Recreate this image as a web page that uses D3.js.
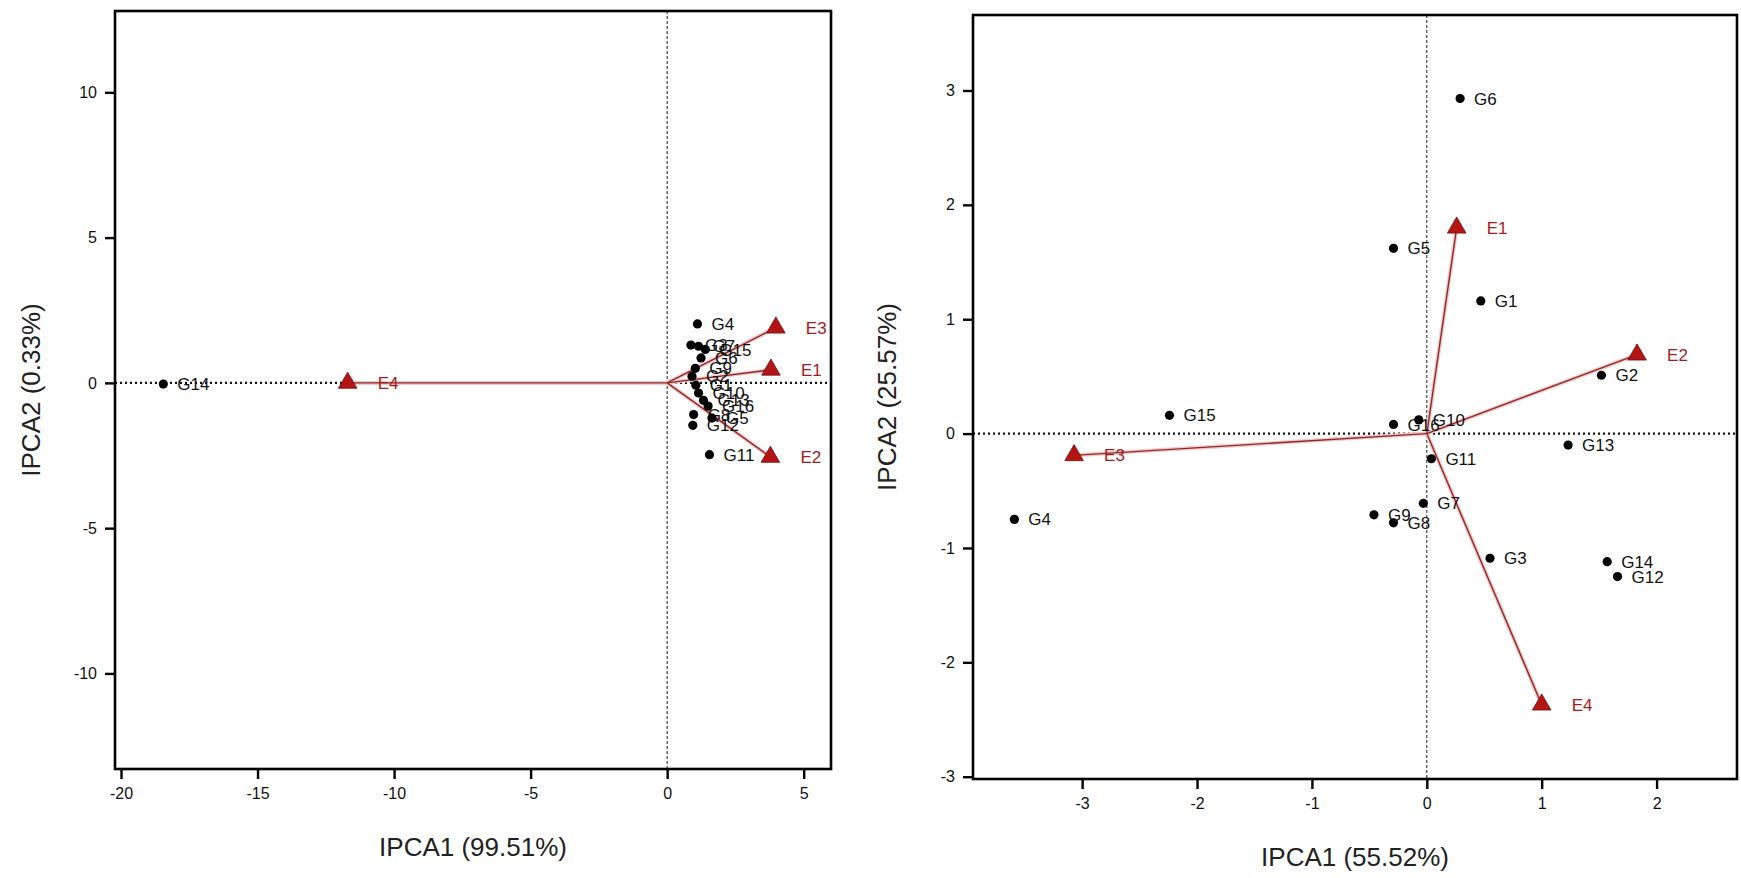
<!DOCTYPE html>
<html>
<head>
<meta charset="utf-8">
<script src="https://cdn.jsdelivr.net/npm/d3@7"></script>
<style>
  body { margin: 0; background: #fff; }
  svg { display: block; font-family: "Liberation Sans", Arial, sans-serif; }
</style>
</head>
<body>
<svg width="1741" height="878"></svg>
<script>
// ---- left biplot (IPCA1 99.51% / IPCA2 0.33%) ----
var leftGenotypes = [
  {name: "G1",  x: 1.05, y: -0.08},
  {name: "G2",  x: 0.91, y: 0.23},
  {name: "G3",  x: 0.87, y: 1.30},
  {name: "G4",  x: 1.11, y: 2.03},
  {name: "G5",  x: 1.64, y: -1.21},
  {name: "G6",  x: 1.24, y: 0.86},
  {name: "G7",  x: 1.15, y: 1.26},
  {name: "G8",  x: 0.97, y: -1.09},
  {name: "G9",  x: 1.03, y: 0.50},
  {name: "G10", x: 1.15, y: -0.35},
  {name: "G11", x: 1.55, y: -2.47},
  {name: "G12", x: 0.94, y: -1.46},
  {name: "G13", x: 1.33, y: -0.60},
  {name: "G14", x: -18.45, y: -0.04},
  {name: "G15", x: 1.40, y: 1.15},
  {name: "G16", x: 1.50, y: -0.80}
];
var leftEnvironments = [
  {name: "E1", x: 3.80, y: 0.45},
  {name: "E2", x: 3.78, y: -2.55},
  {name: "E3", x: 3.98, y: 1.90},
  {name: "E4", x: -11.70, y: 0.0}
];
var leftXTicks = [-20, -15, -10, -5, 0, 5];
var leftYTicks = [-10, -5, 0, 5, 10];

// ---- right biplot (IPCA1 55.52% / IPCA2 25.57%) ----
var rightGenotypes = [
  {name: "G1",  x: 0.47, y: 1.16},
  {name: "G2",  x: 1.52, y: 0.51},
  {name: "G3",  x: 0.55, y: -1.09},
  {name: "G4",  x: -3.59, y: -0.75},
  {name: "G5",  x: -0.29, y: 1.62},
  {name: "G6",  x: 0.29, y: 2.93},
  {name: "G7",  x: -0.03, y: -0.61},
  {name: "G8",  x: -0.29, y: -0.78},
  {name: "G9",  x: -0.46, y: -0.71},
  {name: "G10", x: -0.07, y: 0.12},
  {name: "G11", x: 0.04, y: -0.22},
  {name: "G12", x: 1.66, y: -1.25},
  {name: "G13", x: 1.23, y: -0.10},
  {name: "G14", x: 1.57, y: -1.12},
  {name: "G15", x: -2.24, y: 0.16},
  {name: "G16", x: -0.29, y: 0.08}
];
var rightEnvironments = [
  {name: "E1", x: 0.26, y: 1.80},
  {name: "E2", x: 1.83, y: 0.69},
  {name: "E3", x: -3.07, y: -0.19},
  {name: "E4", x: 1.00, y: -2.37}
];
var rightXTicks = [-3, -2, -1, 0, 1, 2];
var rightYTicks = [-3, -2, -1, 0, 1, 2, 3];

var svg = d3.select("svg");
var envColor = "#a51c1c";

function biplot(cfg) {
  var x = d3.scaleLinear().domain(cfg.xDomain).range([cfg.left, cfg.right]);
  var y = d3.scaleLinear().domain(cfg.yDomain).range([cfg.bottom, cfg.top]);
  var g = svg.append("g");

  // zero reference lines
  g.append("line")
    .attr("x1", x(0)).attr("x2", x(0))
    .attr("y1", cfg.top).attr("y2", cfg.bottom)
    .attr("stroke", "#222").attr("stroke-width", 1)
    .attr("stroke-dasharray", "3,2");
  g.append("line")
    .attr("x1", cfg.left).attr("x2", cfg.right)
    .attr("y1", y(0)).attr("y2", y(0))
    .attr("stroke", "#111").attr("stroke-width", 2.2)
    .attr("stroke-dasharray", "2,3");

  // environment vectors (pale halo + dark line)
  g.selectAll("line.vec")
    .data(cfg.envs)
    .enter().append("line")
    .attr("class", "vec")
    .attr("x1", x(0)).attr("y1", y(0))
    .attr("x2", function(d) { return x(d.x); })
    .attr("y2", function(d) { return y(d.y); })
    .attr("stroke", "#f4c8c8").attr("stroke-width", 4);
  g.selectAll("line.vec2")
    .data(cfg.envs)
    .enter().append("line")
    .attr("class", "vec2")
    .attr("x1", x(0)).attr("y1", y(0))
    .attr("x2", function(d) { return x(d.x); })
    .attr("y2", function(d) { return y(d.y); })
    .attr("stroke", "#8c2a2a").attr("stroke-width", 1.4);

  // genotype points
  g.selectAll("circle")
    .data(cfg.genos)
    .enter().append("circle")
    .attr("cx", function(d) { return x(d.x); })
    .attr("cy", function(d) { return y(d.y); })
    .attr("r", 4.6)
    .attr("fill", "#000");

  g.selectAll("text.geno")
    .data(cfg.genos)
    .enter().append("text")
    .attr("class", "geno")
    .attr("x", function(d) { return x(d.x) + 14; })
    .attr("y", function(d) { return y(d.y); })
    .attr("dy", "0.36em")
    .attr("font-size", 17)
    .attr("fill", "#111")
    .text(function(d) { return d.name; });

  // environment markers
  var tri = d3.symbol().type(d3.symbolTriangle).size(150);
  g.selectAll("path.env")
    .data(cfg.envs)
    .enter().append("path")
    .attr("class", "env")
    .attr("d", tri)
    .attr("transform", function(d) { return "translate(" + x(d.x) + "," + y(d.y) + ")"; })
    .attr("fill", "#b31414")
    .attr("stroke", "#7a0c0c").attr("stroke-width", 0.8);

  g.selectAll("text.env")
    .data(cfg.envs)
    .enter().append("text")
    .attr("class", "env")
    .attr("x", function(d) { return x(d.x) + 30; })
    .attr("y", function(d) { return y(d.y); })
    .attr("dy", "0.36em")
    .attr("font-size", 17)
    .attr("fill", envColor)
    .text(function(d) { return d.name; });

  // axes (plain hyphen minus like the original)
  var fmt = function(d) { return String(d); };
  var xAxis = d3.axisBottom(x).tickValues(cfg.xTicks).tickSize(10).tickPadding(9).tickFormat(fmt);
  var yAxis = d3.axisLeft(y).tickValues(cfg.yTicks).tickSize(10).tickPadding(8).tickFormat(fmt);

  var xa = g.append("g").attr("transform", "translate(0," + cfg.bottom + ")").call(xAxis);
  var ya = g.append("g").attr("transform", "translate(" + cfg.left + ",0)").call(yAxis);
  [xa, ya].forEach(function(a) {
    a.select(".domain").remove();
    a.selectAll(".tick line").attr("stroke", "#000").attr("stroke-width", 2.4);
    a.selectAll(".tick text")
      .attr("font-size", 16)
      .attr("font-family", "'Liberation Sans', Arial, sans-serif")
      .attr("fill", "#111");
  });

  // frame
  g.append("rect")
    .attr("x", cfg.left).attr("y", cfg.top)
    .attr("width", cfg.right - cfg.left)
    .attr("height", cfg.bottom - cfg.top)
    .attr("fill", "none")
    .attr("stroke", "#000").attr("stroke-width", 2.6);

  // axis titles
  g.append("text")
    .attr("x", (cfg.left + cfg.right) / 2)
    .attr("y", cfg.xTitleY)
    .attr("text-anchor", "middle")
    .attr("font-size", 26)
    .attr("fill", "#222")
    .text(cfg.xTitle);
  g.append("text")
    .attr("transform", "translate(" + cfg.yTitleX + "," + (cfg.top + cfg.bottom) / 2 + ") rotate(-90)")
    .attr("text-anchor", "middle")
    .attr("font-size", 26)
    .attr("fill", "#222")
    .text(cfg.yTitle);
}

biplot({
  genos: leftGenotypes, envs: leftEnvironments,
  xTicks: leftXTicks, yTicks: leftYTicks,
  xDomain: [-20.22, 6.0], yDomain: [-13.29, 12.8],
  left: 115, right: 831, top: 11, bottom: 769,
  xTitle: "IPCA1 (99.51%)", yTitle: "IPCA2 (0.33%)",
  xTitleY: 856, yTitleX: 40
});

biplot({
  genos: rightGenotypes, envs: rightEnvironments,
  xTicks: rightXTicks, yTicks: rightYTicks,
  xDomain: [-3.95, 2.70], yDomain: [-3.02, 3.66],
  left: 973, right: 1737, top: 15, bottom: 779,
  xTitle: "IPCA1 (55.52%)", yTitle: "IPCA2 (25.57%)",
  xTitleY: 866, yTitleX: 896
});
</script>
</body>
</html>
